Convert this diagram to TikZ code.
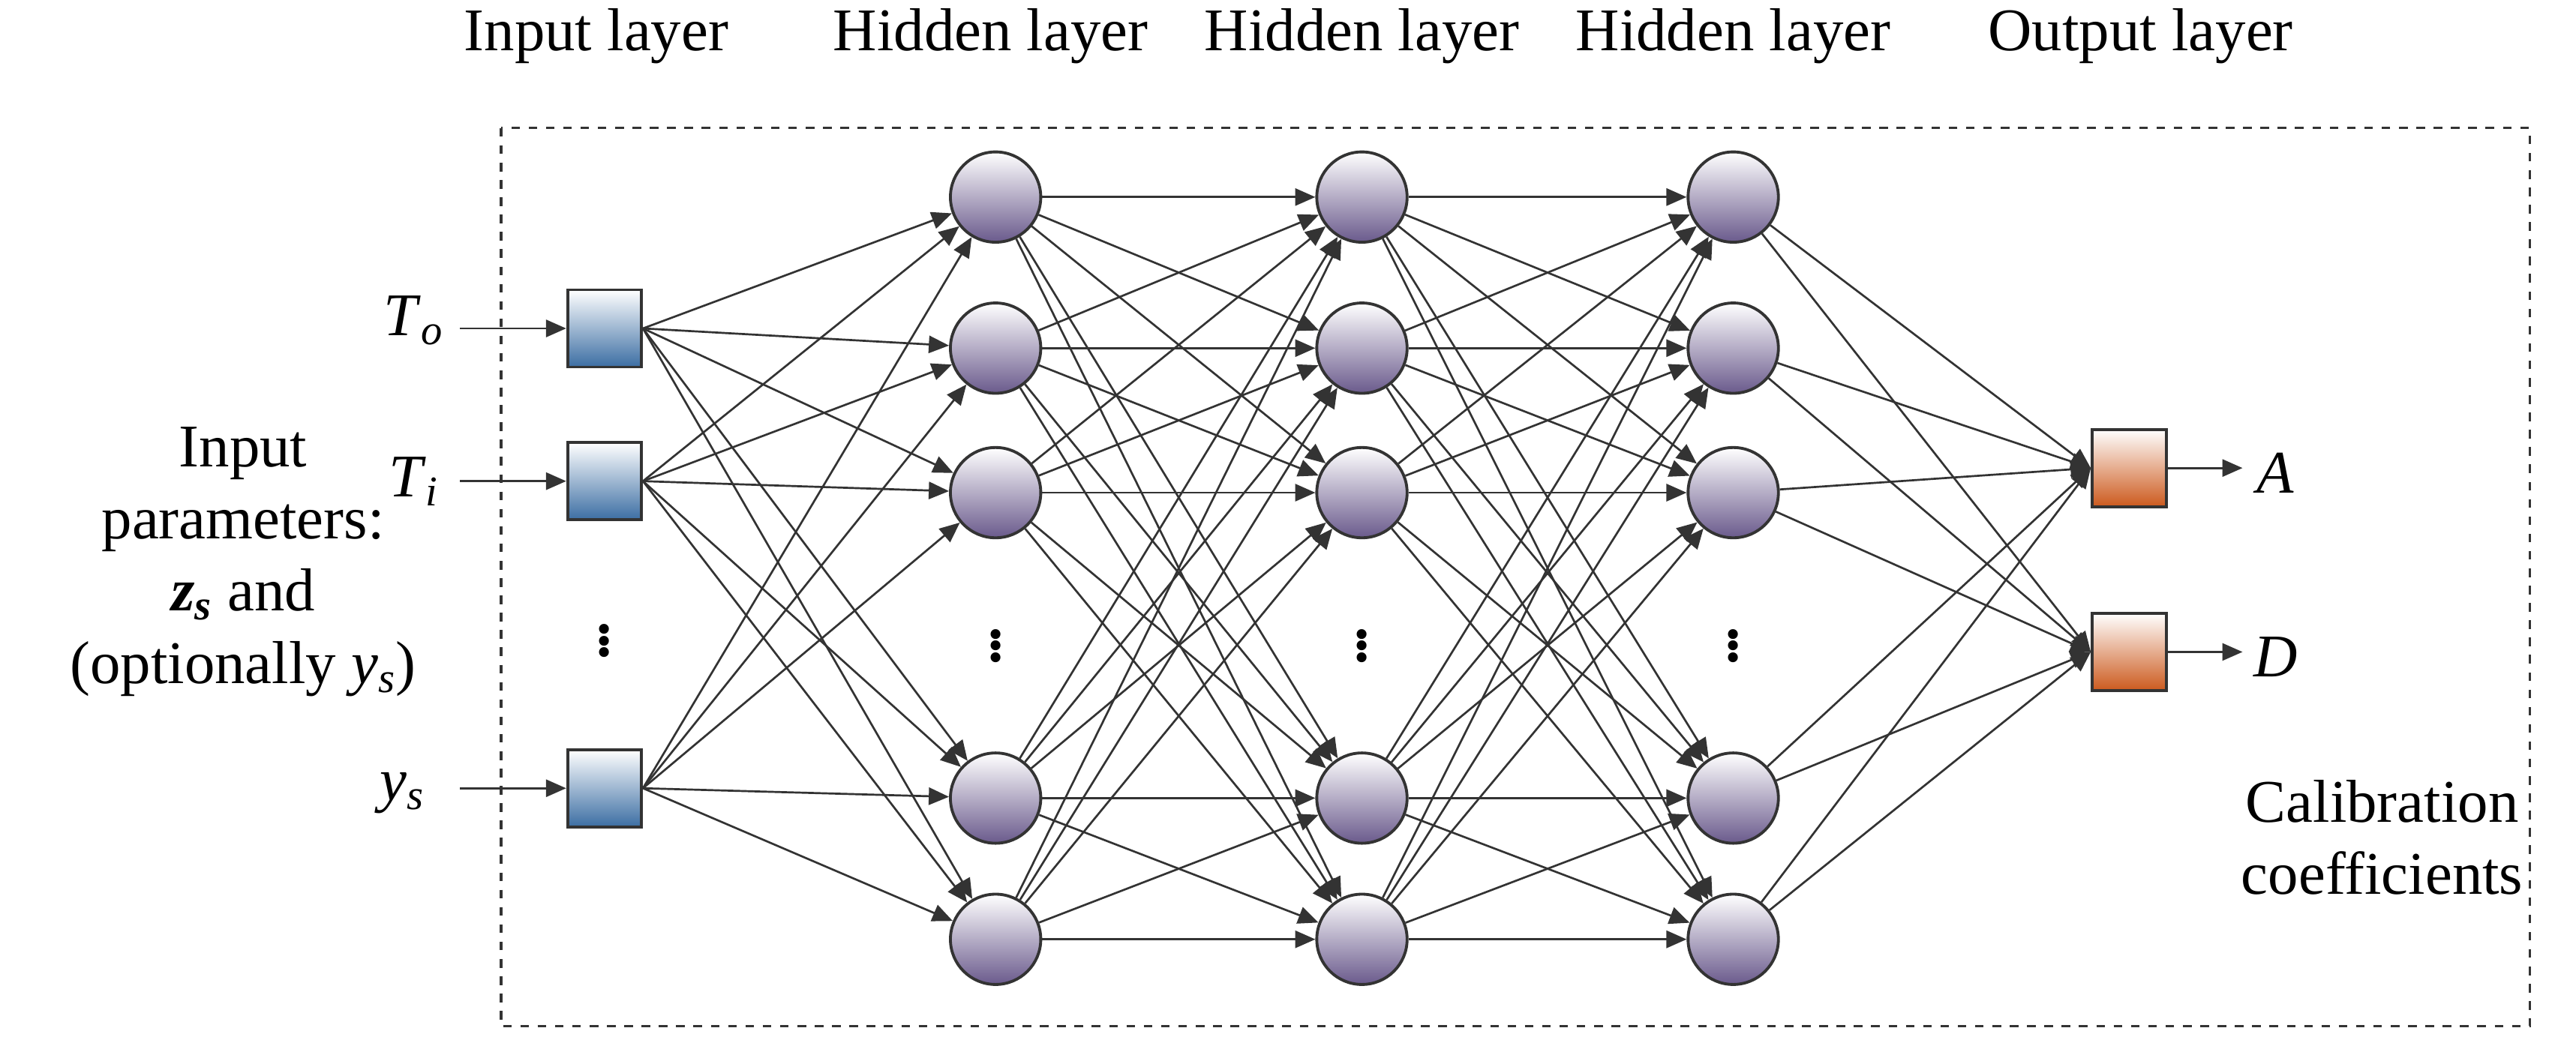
\documentclass[tikz,border=0pt]{standalone}
\usepackage{amsmath, bm}
\usepackage{fontspec}
\setmainfont{Liberation Serif}
\usetikzlibrary{positioning, arrows.meta}
\definecolor{inblue}{HTML}{3C6EA3}
\definecolor{hidpurple}{HTML}{6A5A8C}
\definecolor{outorange}{HTML}{CC5A1E}
\definecolor{edge}{HTML}{333333}
\newcommand{\varsub}[2]{\textit{#1}\textsubscript{\textit{#2}}}
\begin{document}
\begin{tikzpicture}[
    x=0.02cm, y=-0.02cm,
    every node/.style={font=\fontsize{21}{25}\selectfont},
    insq/.style={rectangle, draw=edge, line width=1pt, minimum width=0.9cm, minimum height=0.94cm, top color=white, bottom color=inblue},
    outsq/.style={rectangle, draw=edge, line width=1pt, minimum width=0.9cm, minimum height=0.94cm, top color=white, bottom color=outorange},
    neuron/.style={circle, draw=edge, line width=1pt, minimum size=1.1cm, inner sep=0pt, top color=white, bottom color=hidpurple},
    lbl/.style={align=center, inner sep=0pt},
    arrow/.style={-{Triangle[length=7pt, width=6pt]}, draw=edge, line width=0.7pt}
]
\useasboundingbox (0,0) rectangle (1568,642);
\draw [dashed, edge, line width=0.8pt] (305,78) rectangle (1540,625);
% layer titles
\node [lbl] at (363,22) {Input layer};
\node [lbl] at (603,22) {Hidden layer};
\node [lbl] at (829,22) {Hidden layer};
\node [lbl] at (1055,22) {Hidden layer};
\node [lbl] at (1303,22) {Output layer};
% input layer
\node (i1) [insq] at (368,200) {};
\node (i2) [insq] at (368,293) {};
\node (i3) [insq] at (368,480) {};
\node [lbl] at (368,385) {\textbf{\vdots}};
\node (lTo) [lbl] at (252,195) {\varsub{T}{o}};
\node (lTi) [lbl] at (252,293) {\varsub{T}{i}};
\node (lys) [lbl] at (245,483) {\varsub{y}{s}};
\coordinate (s1) at (280,200);
\coordinate (s2) at (280,293);
\coordinate (s3) at (280,480);
\node [lbl] at (148,342) {Input\\parameters:\\\textbf{\varsub{z}{s}} and\\(optionally \varsub{y}{s})};
% hidden layers
\foreach \l/\x in {1/606, 2/829, 3/1055} {
  \foreach \n/\y in {1/120, 2/212, 3/300, 4/486, 5/572}
    \node (h\l-\n) [neuron] at (\x,\y) {};
  \node [lbl, fill=white, inner sep=1pt] at (\x,388) {\textbf{\vdots}};
}
% output layer
\node (o1) [outsq] at (1296,285) {};
\node (o2) [outsq] at (1296,397) {};
\coordinate (e1) at (1365,285);
\coordinate (e2) at (1365,397);
\node [lbl] at (1385,288) {\textit{A}};
\node [lbl] at (1385,400) {\textit{D}};
\node [lbl] at (1450,510) {Calibration\\coefficients};
% connections
\foreach \i in {1,2,3} {
  \draw [arrow] (s\i) -- (i\i);
  \foreach \n in {1,...,5}
    \draw [arrow] (i\i.east) -- (h1-\n);
}
\foreach \a/\b in {1/2, 2/3}
  \foreach \m in {1,...,5}
    \foreach \n in {1,...,5}
      \draw [arrow] (h\a-\m) -- (h\b-\n);
\foreach \m in {1,...,5}
  \foreach \o in {1,2}
    \draw [arrow] (h3-\m) -- (o\o.west);
\draw [arrow] (o1) -- (e1);
\draw [arrow] (o2) -- (e2);
\end{tikzpicture}
\end{document}
